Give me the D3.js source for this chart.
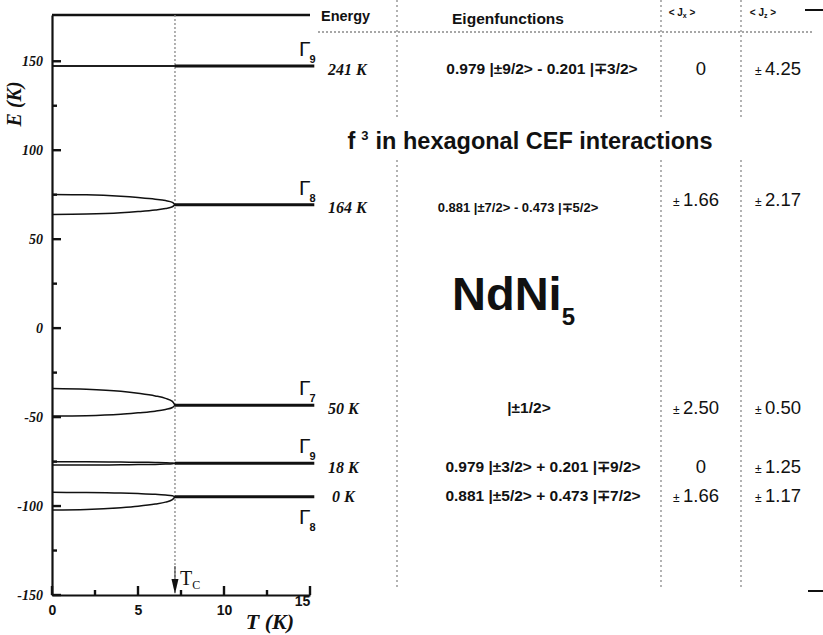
<!DOCTYPE html>
<html>
<head>
<meta charset="utf-8">
<script src="https://cdn.jsdelivr.net/npm/d3@7.9.0/dist/d3.min.js"></script>
<style>
  body { margin: 0; background: #fff; }
  svg { display: block; }
  .serif { font-family: "Liberation Serif", "Times New Roman", serif; }
  .sans { font-family: "Liberation Sans", Arial, sans-serif; }
</style>
</head>
<body>
<svg id="chart" width="823" height="635"></svg>
<script>
const temps = [0, 2, 4, 5, 6, 6.6, 7.0, 7.15];
const tc = 7.15;
const tEnd = 15.25;

// levels (above Tc) and the two branches below Tc, energies in K
const levelNames = ['9', '8', '7', '9', '8'];
const levelE = [147.3, 69.4, -43.3, -76, -94.8];
const upperBranch = [
  [147.3, 147.3, 147.3, 147.3, 147.3, 147.3, 147.3, 147.3],
  [75.1, 74.9, 74.1, 73.4, 72.5, 71.7, 70.7, 69.4],
  [-33.9, -34.3, -35.5, -36.6, -38.1, -39.5, -41.2, -43.3],
  [-75.1, -75.1, -75.3, -75.4, -75.5, -75.6, -75.8, -76],
  [-92.3, -92.4, -92.7, -93.0, -93.4, -93.8, -94.2, -94.8]
];
const lowerBranch = [
  [147.3, 147.3, 147.3, 147.3, 147.3, 147.3, 147.3, 147.3],
  [63.9, 64.1, 64.8, 65.5, 66.4, 67.2, 68.2, 69.4],
  [-49.4, -49.2, -48.4, -47.6, -46.7, -45.7, -44.6, -43.3],
  [-77, -77, -76.8, -76.7, -76.6, -76.4, -76.2, -76],
  [-102.2, -101.9, -100.9, -100.1, -98.9, -97.8, -96.4, -94.8]
];

// table
const energyLabels = ['241 K', '164 K', '50 K', '18 K', '0 K'];
const eigenLabels = [
  '0.979 |\u00b19/2> - 0.201 |\u22133/2>',
  '0.881 |\u00b17/2> - 0.473 |\u22135/2>',
  '|\u00b11/2>',
  '0.979 |\u00b13/2> + 0.201 |\u22139/2>',
  '0.881 |\u00b15/2> + 0.473 |\u22137/2>'
];
const jxValues = ['0', '1.66', '2.50', '0', '1.66'];
const jzValues = ['4.25', '2.17', '0.50', '1.25', '1.17'];

const yMajor = [-150, -100, -50, 0, 50, 100, 150];
const yMinor = [-125, -75, -25, 25, 75, 125];
const xMajor = [0, 5, 10, 15];
const xMinor = [2.5, 7.5, 12.5];

const svg = d3.select('#chart');
const x = d3.scaleLinear().domain([0, 15]).range([52, 310]);
const y = d3.scaleLinear().domain([-150, 176]).range([595, 15]);
const ink = '#111';

// axes (labels from d3 axis, inward ticks drawn from the same scales)
const yAxis = svg.append('g').attr('transform', `translate(${x(0)},0)`)
  .call(d3.axisLeft(y).tickValues(yMajor).tickSize(0).tickPadding(9).tickFormat(d => String(d)));
yAxis.selectAll('text').attr('class', 'serif').attr('fill', ink)
  .style('font-size', '14px').style('font-weight', 'bold').style('font-style', 'italic');

const xAxis = svg.append('g').attr('transform', `translate(0,${y(-150)})`)
  .call(d3.axisBottom(x).tickValues(xMajor).tickSize(0).tickPadding(10).tickFormat(d => String(d)));
xAxis.selectAll('text').attr('class', 'sans').attr('fill', ink)
  .style('font-size', '14px').style('font-weight', 'bold');
xAxis.selectAll('.tick').filter(d => d === 15).select('text').attr('dx', -8).attr('dy', '0.1em');

svg.selectAll('.domain').attr('stroke', ink).attr('stroke-width', 2.2);

const tickG = svg.append('g');
const tickSets = [
  { vals: yMajor, len: 9, vertical: false },
  { vals: yMinor, len: 5, vertical: false },
  { vals: xMajor, len: 9, vertical: true },
  { vals: xMinor, len: 5, vertical: true }
];
tickSets.forEach(s => {
  s.vals.forEach(v => {
    const p = s.vertical
      ? `M${x(v)},${y(-150)}V${y(-150) - s.len}`
      : `M${x(0)},${y(v)}H${x(0) + s.len}`;
    tickG.append('path').attr('d', p)
      .attr('stroke', ink).attr('stroke-width', 2.4).attr('fill', 'none');
  });
});

// top frame line
svg.append('line')
  .attr('x1', x(0)).attr('x2', x(15)).attr('y1', y(176)).attr('y2', y(176))
  .attr('stroke', ink).attr('stroke-width', 2.4);

// axis titles
svg.append('text').attr('class', 'serif').attr('fill', ink)
  .attr('transform', `translate(21,${y(126)}) rotate(-90)`)
  .attr('text-anchor', 'middle')
  .style('font-size', '20px').style('font-weight', 'bold').style('font-style', 'italic')
  .text('E (K)');
svg.append('text').attr('class', 'serif').attr('fill', ink)
  .attr('x', 270).attr('y', 629).attr('text-anchor', 'middle')
  .style('font-size', '22px').style('font-weight', 'bold').style('font-style', 'italic')
  .text('T (K)');

// Tc marker
svg.append('line')
  .attr('x1', x(tc)).attr('x2', x(tc)).attr('y1', y(176)).attr('y2', y(-150))
  .attr('stroke', '#888').attr('stroke-width', 1.3).attr('stroke-dasharray', '2,2');
svg.append('line')
  .attr('x1', x(tc)).attr('x2', x(tc)).attr('y1', 566).attr('y2', 585)
  .attr('stroke', '#333').attr('stroke-width', 1);
svg.append('path')
  .attr('d', `M${x(tc) - 3.5},579 L${x(tc) + 3.5},579 L${x(tc)},594 Z`)
  .attr('fill', ink);
const tcText = svg.append('text').attr('class', 'serif').attr('fill', ink)
  .attr('x', x(tc) + 5).attr('y', 585).style('font-size', '20px');
tcText.append('tspan').text('T');
tcText.append('tspan').attr('dy', 4).style('font-size', '12px').text('C');

// level branches
const branchLine = d3.line().x((d, i) => x(temps[i])).y(d => y(d)).curve(d3.curveMonotoneX);
[upperBranch, lowerBranch].forEach(branch => {
  svg.append('g').selectAll('path').data(branch).join('path')
    .attr('d', d => branchLine(d))
    .attr('fill', 'none').attr('stroke', ink).attr('stroke-width', 1.5);
});
svg.append('g').selectAll('line').data(levelE).join('line')
  .attr('x1', x(tc)).attr('x2', x(tEnd))
  .attr('y1', d => y(d)).attr('y2', d => y(d))
  .attr('stroke', ink).attr('stroke-width', 3);

// Gamma labels (last one sits below its line)
levelE.forEach((e, i) => {
  const below = i === levelE.length - 1;
  const t = svg.append('text').attr('class', 'sans').attr('fill', ink)
    .attr('x', 299).attr('y', below ? y(e) + 27 : y(e) - 10)
    .style('font-size', '21px');
  t.append('tspan').text('\u0393');
  t.append('tspan').attr('dy', 7).attr('dx', -1)
    .style('font-size', '11px').style('font-weight', 'bold').text(levelNames[i]);
});

// table grid
const grey = '#8a8a8a';
const colX = [397, 661, 741];
colX.forEach(cx => {
  [[0, 117], [160, 590]].forEach(([a, b]) => {
    svg.append('line').attr('x1', cx).attr('x2', cx).attr('y1', a).attr('y2', b)
      .attr('stroke', grey).attr('stroke-width', 1.3).attr('stroke-dasharray', '2,3');
  });
});
svg.append('line').attr('x1', 318).attr('x2', 812).attr('y1', 32).attr('y2', 32)
  .attr('stroke', grey).attr('stroke-width', 1.3).attr('stroke-dasharray', '2,2');
svg.append('line').attr('x1', 805).attr('x2', 823).attr('y1', 10).attr('y2', 10)
  .attr('stroke', ink).attr('stroke-width', 2);
svg.append('line').attr('x1', 808).attr('x2', 823).attr('y1', 591).attr('y2', 591)
  .attr('stroke', ink).attr('stroke-width', 2);

// headers
svg.append('text').attr('class', 'sans').attr('fill', ink).attr('x', 321).attr('y', 21)
  .style('font-size', '14.5px').style('font-weight', 'bold').text('Energy');
svg.append('text').attr('class', 'sans').attr('fill', ink).attr('x', 508).attr('y', 24)
  .attr('text-anchor', 'middle')
  .style('font-size', '15.5px').style('font-weight', 'bold').text('Eigenfunctions');
[['x', 682], ['z', 763]].forEach(([s, cx]) => {
  const t = svg.append('text').attr('class', 'sans').attr('fill', ink).attr('x', cx).attr('y', 16)
    .attr('text-anchor', 'middle').style('font-size', '10px').style('font-weight', 'bold');
  t.append('tspan').text('< J');
  t.append('tspan').attr('dy', 2).style('font-size', '7px').text(s);
  t.append('tspan').attr('dy', -2).text(' >');
});

// rows
const rowBase = [74, 212, 413, 472, 501];
const eigenX = [542, 518, 529, 543, 543];
const eigenSize = [15.5, 13, 15.5, 15.5, 15.5];
energyLabels.forEach((lab, i) => {
  svg.append('text').attr('class', 'serif').attr('fill', ink)
    .attr('x', lab === '0 K' ? 332 : 328).attr('y', rowBase[i] + 1)
    .style('font-size', '16px').style('font-weight', 'bold').style('font-style', 'italic')
    .text(lab);
  svg.append('text').attr('class', 'sans').attr('fill', ink).attr('x', eigenX[i]).attr('y', rowBase[i])
    .attr('text-anchor', 'middle')
    .style('font-size', eigenSize[i] + 'px').style('font-weight', 'bold')
    .text(eigenLabels[i]);
  [[jxValues[i], 696], [jzValues[i], 778]].forEach(([v, cx]) => {
    const t = svg.append('text').attr('class', 'sans').attr('fill', ink)
      .attr('x', cx + (v === '0' ? 5 : 0))
      .attr('y', rowBase[i] + (i === 1 ? -6 : 1)).attr('text-anchor', 'middle')
      .style('font-size', '18.5px');
    if (v !== '0') t.append('tspan').style('font-size', '12px').text('\u00b1 ');
    t.append('tspan').text(v);
  });
});

// titles inside the table
const f3 = svg.append('text').attr('class', 'sans').attr('fill', ink).attr('x', 530).attr('y', 149)
  .attr('text-anchor', 'middle').style('font-size', '23.5px').style('font-weight', 'bold');
f3.append('tspan').text('f');
f3.append('tspan').attr('dy', -9).attr('dx', 6).style('font-size', '13px').text('3');
f3.append('tspan').attr('dy', 9).attr('dx', 7).text('in hexagonal CEF interactions');

const nd = svg.append('text').attr('class', 'sans').attr('fill', ink).attr('x', 452).attr('y', 310)
  .style('font-size', '47px').style('font-weight', 'bold');
nd.append('tspan').text('NdNi');
nd.append('tspan').attr('dy', 15).style('font-size', '24px').text('5');
</script>
</body>
</html>
